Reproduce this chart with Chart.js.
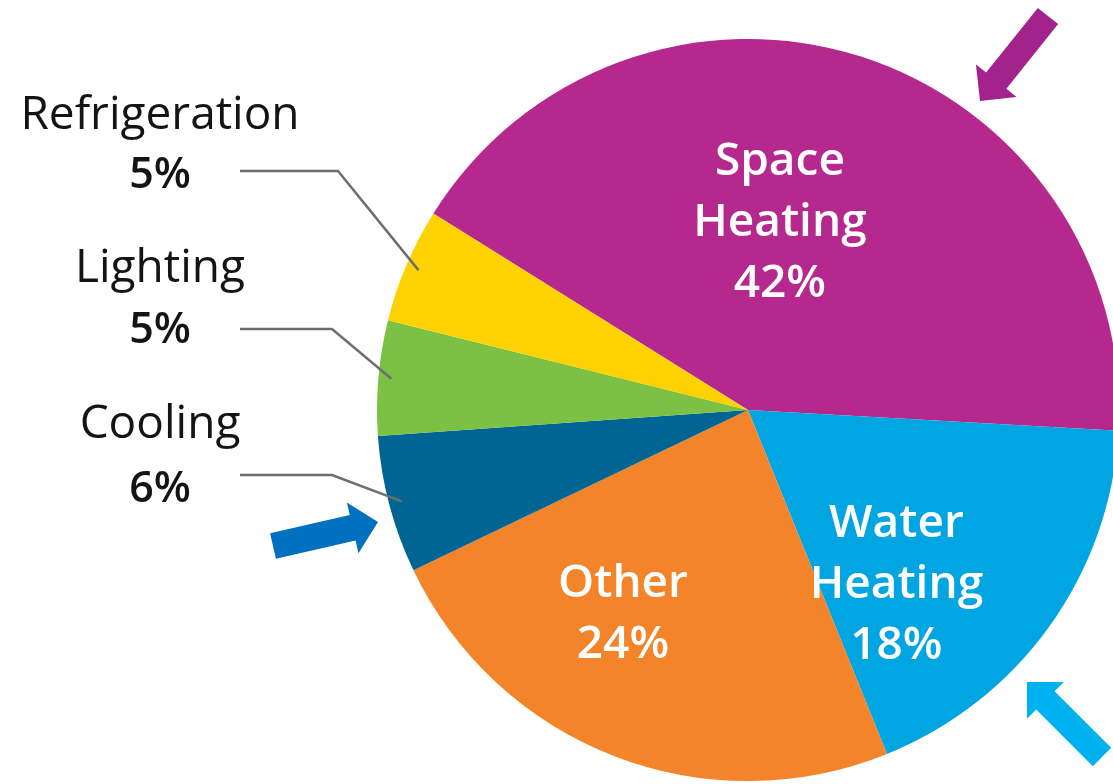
<!DOCTYPE html>
<html>
<head>
<meta charset="utf-8">
<script src="https://cdn.jsdelivr.net/npm/chart.js@4.4.1/dist/chart.umd.min.js"></script>
<style>
  html, body { margin: 0; padding: 0; background: #fff; overflow: hidden; }
</style>
</head>
<body>
<canvas id="energyPie" width="1130" height="784"></canvas>
<script>
// home energy use by end use, clockwise from Space Heating
const categories = ['Space Heating', 'Water Heating', 'Other', 'Cooling', 'Lighting', 'Refrigeration'];
const shares = [42, 18, 24, 6, 5, 5];
const sliceColors = ['#b5298f', '#00a5e2', '#f3842a', '#006592', '#7bc143', '#fed100'];

// labels written inside the pie (first baseline, relative to centre in radius units)
const insideSpots = { 0: [0.086, -0.633], 1: [0.40, 0.342], 2: [-0.337, 0.504] };
// labels written to the left, with a leader line into the slice
const outsideSpots = {
  5: { nameY: 129, pctY: 188, lineY: 171, elbowX: 338 },
  4: { nameY: 282, pctY: 343, lineY: 329, elbowX: 332 },
  3: { nameY: 438, pctY: 502, lineY: 475, elbowX: 332 }
};
const arrows = [
  { tail: [1048, 16], tip: [980, 101], color: '#a4228b' },
  { tail: [273, 546], tip: [378, 522], color: '#0070c0' },
  { tail: [1102, 757], tip: [1027, 682], color: '#00b1f0' }
];

function drawArrow(ctx, a) {
  const sw = 26, hw = 52, hl = 26;
  let dx = a.tip[0] - a.tail[0], dy = a.tip[1] - a.tail[1];
  const len = Math.hypot(dx, dy);
  dx /= len; dy /= len;
  const nx = -dy, ny = dx;
  const bx = a.tip[0] - dx * hl, by = a.tip[1] - dy * hl;
  ctx.beginPath();
  ctx.moveTo(a.tail[0] + nx * sw / 2, a.tail[1] + ny * sw / 2);
  ctx.lineTo(bx + nx * sw / 2, by + ny * sw / 2);
  ctx.lineTo(bx + nx * hw / 2, by + ny * hw / 2);
  ctx.lineTo(a.tip[0], a.tip[1]);
  ctx.lineTo(bx - nx * hw / 2, by - ny * hw / 2);
  ctx.lineTo(bx - nx * sw / 2, by - ny * sw / 2);
  ctx.lineTo(a.tail[0] - nx * sw / 2, a.tail[1] - ny * sw / 2);
  ctx.closePath();
  ctx.fillStyle = a.color;
  ctx.fill();
}

const labelPlugin = {
  id: 'sliceLabels',
  afterDatasetsDraw(chart) {
    const ctx = chart.ctx;
    const arcs = chart.getDatasetMeta(0).data;
    ctx.save();
    ctx.textAlign = 'center';
    ctx.textBaseline = 'alphabetic';

    Object.keys(insideSpots).forEach(function (k) {
      const i = +k, arc = arcs[i], spot = insideSpots[k];
      const x = arc.x + spot[0] * arc.outerRadius;
      let y = arc.y + spot[1] * arc.outerRadius;
      const lines = categories[i].split(' ').concat([shares[i] + '%']);
      ctx.fillStyle = '#ffffff';
      ctx.font = '600 46px "Open Sans"';
      lines.forEach(function (t) {
        ctx.fillText(t, x, y);
        y += 61;
      });
    });

    Object.keys(outsideSpots).forEach(function (k) {
      const i = +k, arc = arcs[i], spot = outsideSpots[k];
      ctx.fillStyle = '#141414';
      ctx.font = '400 46px "Open Sans"';
      ctx.fillText(categories[i], 160, spot.nameY);
      ctx.font = '600 43px "Open Sans"';
      ctx.fillText(shares[i] + '%', 160, spot.pctY);

      const mid = (arc.startAngle + arc.endAngle) / 2;
      const r = arc.outerRadius * 0.965;
      ctx.beginPath();
      ctx.moveTo(240, spot.lineY);
      ctx.lineTo(spot.elbowX, spot.lineY);
      ctx.lineTo(arc.x + Math.cos(mid) * r, arc.y + Math.sin(mid) * r);
      ctx.strokeStyle = '#6e6e6e';
      ctx.lineWidth = 2.5;
      ctx.stroke();
    });

    arrows.forEach(function (a) { drawArrow(ctx, a); });
    ctx.restore();
  }
};

new Chart(document.getElementById('energyPie').getContext('2d'), {
  type: 'pie',
  data: {
    labels: categories,
    datasets: [{
      data: shares,
      backgroundColor: sliceColors,
      borderWidth: 0,
      hoverOffset: 0
    }]
  },
  options: {
    responsive: false,
    animation: false,
    rotation: -58,
    layout: { padding: { left: 377, right: 11, top: 39, bottom: 3 } },
    plugins: {
      legend: { display: false },
      tooltip: { enabled: false }
    }
  },
  plugins: [labelPlugin]
});
</script>
</body>
</html>
